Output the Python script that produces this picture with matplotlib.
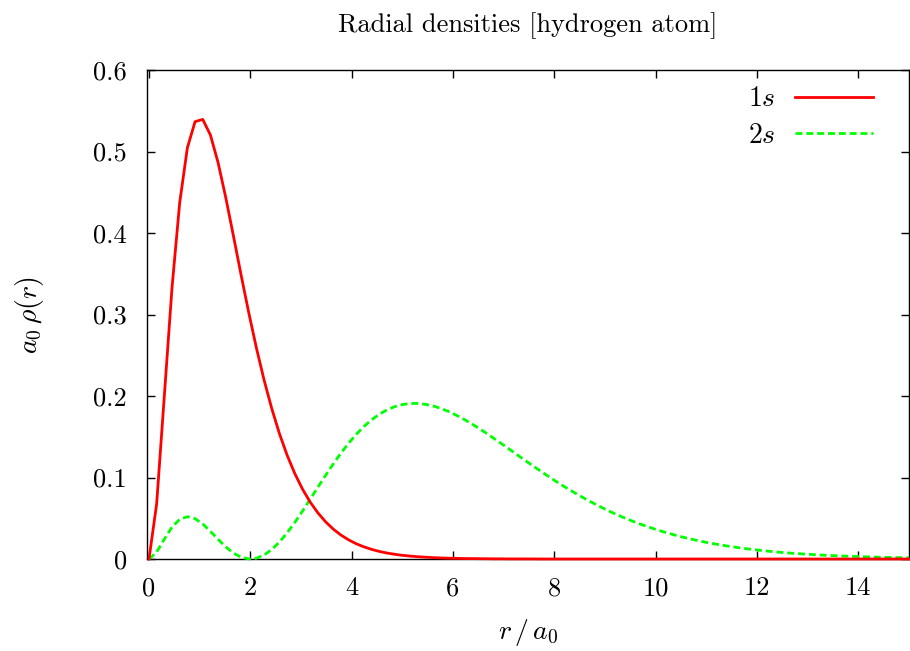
import numpy as np
import matplotlib
matplotlib.use("Agg")
import matplotlib.pyplot as plt
from matplotlib.ticker import FixedLocator, FuncFormatter

plt.rcParams['mathtext.fontset'] = 'cm'
plt.rcParams['font.family'] = ['cmr10', 'DejaVu Serif']
plt.rcParams['axes.formatter.use_mathtext'] = True

# r grid (100 samples over [0, 15])
r = np.linspace(0, 15, 100)

rho_1s = [
    0.0, 0.0678, 0.2004, 0.3330, 0.4372, 0.5045, 0.5366, 0.5394, 0.5203, 0.4864,
    0.4435, 0.3964, 0.3484, 0.3020, 0.2587, 0.2193, 0.1843, 0.1536, 0.1272, 0.1047,
    0.0857, 0.0698, 0.0566, 0.0457, 0.0367, 0.0294, 0.0235, 0.0187, 0.0149, 0.0118,
    0.0093, 0.0073, 0.0058, 0.0045, 0.0036, 0.0028, 0.0022, 0.0017, 0.0013, 0.0010,
    0.0008, 0.0006, 0.0005, 0.0004, 0.0003, 0.0002, 0.0002, 0.0001, 0.0001, 0.0001,
    0.0001, 0.0, 0.0, 0.0, 0.0, 0.0, 0.0, 0.0, 0.0, 0.0,
    0.0, 0.0, 0.0, 0.0, 0.0, 0.0, 0.0, 0.0, 0.0, 0.0,
    0.0, 0.0, 0.0, 0.0, 0.0, 0.0, 0.0, 0.0, 0.0, 0.0,
    0.0, 0.0, 0.0, 0.0, 0.0, 0.0, 0.0, 0.0, 0.0, 0.0,
    0.0, 0.0, 0.0, 0.0, 0.0, 0.0, 0.0, 0.0, 0.0, 0.0,
]

rho_2s = [
    0.0, 0.0084, 0.0244, 0.0392, 0.0487, 0.0519, 0.0495, 0.0430, 0.0339, 0.0241,
    0.0148, 0.0073, 0.0022, 0.0001, 0.0010, 0.0049, 0.0117, 0.0209, 0.0322, 0.0450,
    0.0588, 0.0734, 0.0881, 0.1026, 0.1166, 0.1298, 0.1420, 0.1530, 0.1626, 0.1708,
    0.1776, 0.1830, 0.1869, 0.1895, 0.1908, 0.1909, 0.1898, 0.1878, 0.1848, 0.1811,
    0.1766, 0.1716, 0.1661, 0.1602, 0.1540, 0.1475, 0.1410, 0.1343, 0.1276, 0.1209,
    0.1144, 0.1079, 0.1016, 0.0954, 0.0894, 0.0837, 0.0782, 0.0729, 0.0679, 0.0631,
    0.0585, 0.0542, 0.0502, 0.0464, 0.0428, 0.0395, 0.0363, 0.0334, 0.0307, 0.0281,
    0.0258, 0.0236, 0.0216, 0.0197, 0.0180, 0.0164, 0.0150, 0.0136, 0.0124, 0.0113,
    0.0102, 0.0093, 0.0084, 0.0076, 0.0069, 0.0063, 0.0057, 0.0051, 0.0046, 0.0042,
    0.0038, 0.0034, 0.0031, 0.0028, 0.0025, 0.0022, 0.0020, 0.0018, 0.0016, 0.0015,
]

xticks = [0, 2, 4, 6, 8, 10, 12, 14]
yticks = [0, 0.1, 0.2, 0.3, 0.4, 0.5, 0.6]

fig = plt.figure(figsize=(9.1, 6.51), dpi=100)
ax = fig.add_axes([147/910, 1-559/651, (909-147)/910, (559-70)/651])

ax.plot(r, rho_1s, color='#ff0000', lw=2.0, label=r'$1s$', zorder=5, clip_on=False)
ax.plot(r, rho_2s, color='#00ff00', lw=2.0, ls=(0, (2.5, 1.4)), label=r'$2s$', zorder=4, clip_on=False)

ax.set_xlim(0 - 2/51, 15)
ax.set_ylim(0, 0.6)
ax.xaxis.set_major_locator(FixedLocator(xticks))
ax.yaxis.set_major_locator(FixedLocator(yticks))
ax.xaxis.set_major_formatter(FuncFormatter(lambda v, p: '%g' % v))
ax.yaxis.set_major_formatter(FuncFormatter(lambda v, p: '%g' % v))
ax.tick_params(direction='in', length=6, width=1, top=True, right=True,
               labelsize=19)
ax.tick_params(axis='y', pad=14.5)
ax.tick_params(axis='x', pad=12.5)
for s in ax.spines.values():
    s.set_linewidth(1.0)
    s.set_color('black')

ax.set_xlabel(r'$r\,/\,a_0$', fontsize=20, labelpad=12)
ax.set_ylabel(r'$a_0\,\rho(r)$', fontsize=20, labelpad=34)
ax.set_title('Radial densities [hydrogen atom]', fontsize=19, pad=27)

leg = ax.legend(loc='upper right', bbox_to_anchor=(0.967, 0.99), frameon=False,
                markerfirst=False, fontsize=20, handlelength=2.8,
                borderaxespad=0.0, borderpad=0.4,
                labelspacing=0.37, handletextpad=0.7)

fig.savefig('out.png', dpi=100)
